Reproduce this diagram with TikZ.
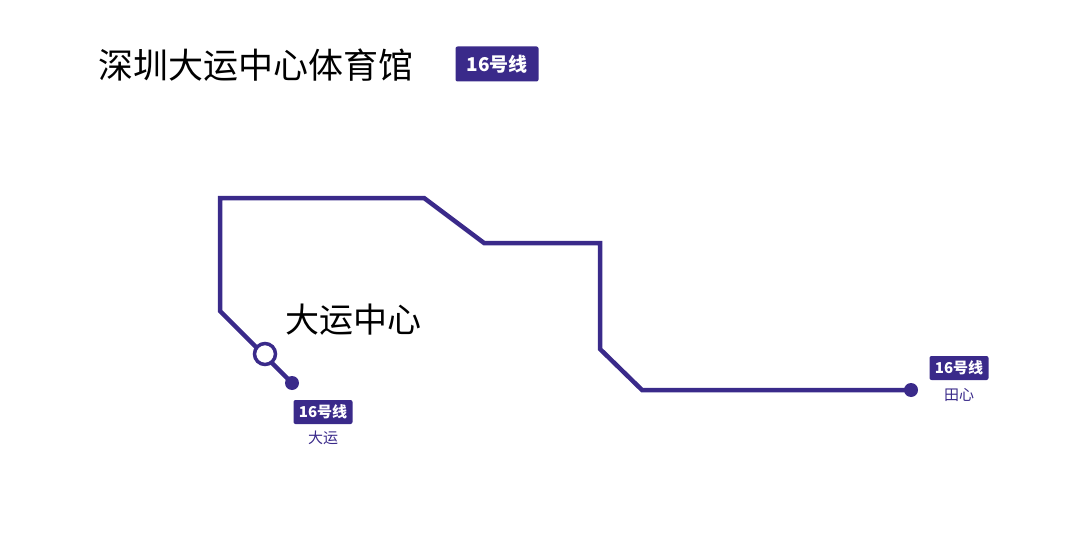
\documentclass[tikz,border=0pt]{standalone}
\usepackage{fontspec}
\setmainfont{Noto Sans CJK SC}
\definecolor{lc}{HTML}{3A2A8A}
\begin{document}
\begin{tikzpicture}[x=1pt,y=-1pt,
  line/.style={draw=lc,line width=4.5pt,line join=miter},
  badge/.style={fill=lc,text=white,rounded corners=2pt,inner sep=0pt,font=\bfseries},
  sname/.style={text=lc,font=\fontsize{15}{15}\selectfont}]
\useasboundingbox (0,0) rectangle (1080,535);
\node[anchor=west,font=\fontsize{35}{35}\selectfont] (title) at (95,65) {深圳大运中心体育馆};
\node[badge,minimum width=83pt,minimum height=35pt,font=\bfseries\fontsize{19}{19}\selectfont] (b0) at (497,64) {16号线};
\coordinate (a) at (292,383);
\coordinate (p1) at (220,311);
\coordinate (p2) at (220,198);
\coordinate (p3) at (424,198);
\coordinate (p4) at (484,243);
\coordinate (p5) at (600,243);
\coordinate (p6) at (600,349);
\coordinate (p7) at (642,390);
\coordinate (t) at (911,390);
\draw[line] (a) -- (p1) -- (p2) -- (p3) -- (p4) -- (p5) -- (p6) -- (p7) -- (t);
\fill[lc] (a) circle (7);
\fill[lc] (t) circle (7);
\node[circle,draw=lc,fill=white,line width=3.5pt,minimum size=21pt,inner sep=0pt] (st) at (265,354) {};
\node[anchor=west,font=\fontsize{34}{34}\selectfont] (lab) at (282,320) {大运中心};
\node[badge,minimum width=59pt,minimum height=24pt,font=\bfseries\fontsize{15}{15}\selectfont] (b1) at (323,412) {16号线};
\node[sname] (n1) at (323,438) {大运};
\node[badge,minimum width=59pt,minimum height=24pt,font=\bfseries\fontsize{15}{15}\selectfont] (b2) at (959,368) {16号线};
\node[sname] (n2) at (959,395) {田心};
\end{tikzpicture}
\end{document}
